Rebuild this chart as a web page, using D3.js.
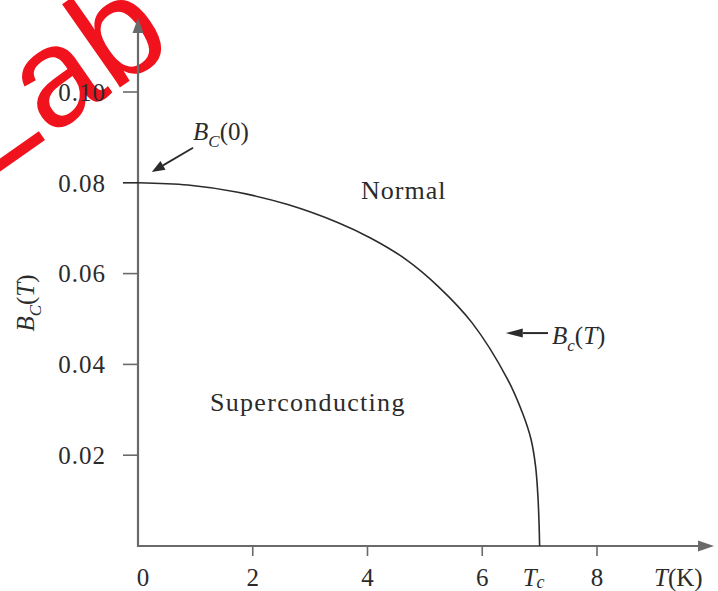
<!DOCTYPE html>
<html>
<head>
<meta charset="utf-8">
<script src="https://cdn.jsdelivr.net/npm/d3@7"></script>
<style>
  html, body { margin: 0; padding: 0; background: #fff; }
  svg { display: block; }
  text { font-family: "Liberation Serif", "Times New Roman", serif; fill: #2b2b2b; }
</style>
</head>
<body>
<div id="chart"></div>
<script>
// Critical field of a type-I superconductor versus temperature
const xTickValues = [0, 2, 4, 6, 8];
const yTickValues = [0.02, 0.04, 0.06, 0.08, 0.10];
const criticalTemp = 7;      // T_c in kelvin
const criticalField0 = 0.08; // B_C(0) in tesla

// Phase boundary B_C(T): temperature (K) and field (T)
const boundaryT = [0, 0.87, 1.74, 2.61, 3.49, 4.06, 4.65, 5.23, 5.82, 6.43, 6.71, 6.85, 6.93, 6.97, 6.99, 7.0];
const boundaryB = [0.0800, 0.0795, 0.0779, 0.0752, 0.0712, 0.0678, 0.0633, 0.0572, 0.0492, 0.0370, 0.0290, 0.0235, 0.0175, 0.0110, 0.0050, 0];

const W = 718, H = 591;
const svg = d3.select("#chart").append("svg").attr("width", W).attr("height", H);

const x = d3.scaleLinear().domain([0, 8]).range([138, 597]);
const y = d3.scaleLinear().domain([0, 0.10]).range([546, 92]);

const axisColor = "#6a6a6a";
const inkColor = "#2b2b2b";

// red watermark lettering in the corner
svg.append("text")
  .attr("transform", "translate(-15,182) rotate(-35)")
  .style("font-family", "'Liberation Sans', Arial, sans-serif")
  .style("font-size", "140px")
  .style("fill", "#f0121c")
  .text("Lab");

// line with a filled arrow head
function arrow(g, x1, y1, x2, y2, len, half, color, width) {
  const ang = Math.atan2(y2 - y1, x2 - x1);
  const bx = x2 - len * Math.cos(ang), by = y2 - len * Math.sin(ang);
  g.append("line").attr("x1", x1).attr("y1", y1).attr("x2", bx).attr("y2", by)
    .attr("stroke", color).attr("stroke-width", width);
  const px = -Math.sin(ang) * half, py = Math.cos(ang) * half;
  g.append("path")
    .attr("d", `M${x2},${y2}L${bx + px},${by + py}L${bx - px},${by - py}Z`)
    .attr("fill", color);
}

const axes = svg.append("g");
// vertical axis with arrow
arrow(axes, x(0), y(0) + 1, x(0), 18, 15, 5.5, axisColor, 2.2);
// horizontal axis with arrow
arrow(axes, x(0) - 1, y(0), 714, y(0), 16, 5.5, axisColor, 2.2);

// y ticks and labels
const yt = svg.append("g");
yt.selectAll("line").data(yTickValues).join("line")
  .attr("x1", x(0) - 15).attr("x2", x(0))
  .attr("y1", d => y(d)).attr("y2", d => y(d))
  .attr("stroke", d => d === criticalField0 ? inkColor : axisColor)
  .attr("stroke-width", 1.6);
yt.selectAll("text").data(yTickValues).join("text")
  .attr("x", 106).attr("y", d => y(d)).attr("dy", "0.35em")
  .attr("text-anchor", "end")
  .style("font-size", "25px").style("letter-spacing", "1px")
  .text(d3.format(".2f"));

// x ticks and labels
const xt = svg.append("g");
xt.selectAll("line").data(xTickValues.filter(d => d > 0)).join("line")
  .attr("x1", d => x(d)).attr("x2", d => x(d))
  .attr("y1", y(0)).attr("y2", y(0) + 10)
  .attr("stroke", axisColor).attr("stroke-width", 1.6);
xt.selectAll("text").data(xTickValues).join("text")
  .attr("x", d => x(d) + (d === 0 ? 5 : 0)).attr("y", 586)
  .attr("text-anchor", "middle")
  .style("font-size", "25px")
  .text(d => d);

// T_c label
const tcLabel = svg.append("text").attr("x", x(criticalTemp) - 17).attr("y", 586).style("font-size", "25px");
tcLabel.append("tspan").style("font-style", "italic").text("T");
tcLabel.append("tspan").style("font-style", "italic").style("font-size", "18px").attr("dy", 2).text("c");

// axis titles
const xTitle = svg.append("text").attr("x", 654).attr("y", 586).style("font-size", "25px");
xTitle.append("tspan").style("font-style", "italic").text("T");
xTitle.append("tspan").text("(K)");

const yTitle = svg.append("text")
  .attr("transform", "translate(34,303) rotate(-90)")
  .attr("text-anchor", "middle")
  .style("font-size", "25px");
yTitle.append("tspan").style("font-style", "italic").text("B");
yTitle.append("tspan").style("font-style", "italic").style("font-size", "17px").attr("dy", 7).text("C");
yTitle.append("tspan").attr("dy", -7).text("(");
yTitle.append("tspan").style("font-style", "italic").text("T");
yTitle.append("tspan").text(")");

// phase boundary curve
const pts = boundaryT.map((t, i) => [t, boundaryB[i]]);
svg.append("path")
  .datum(pts)
  .attr("fill", "none")
  .attr("stroke", inkColor)
  .attr("stroke-width", 1.6)
  .attr("d", d3.line().x(d => x(d[0])).y(d => y(d[1])).curve(d3.curveCatmullRom.alpha(0.5)));

// region labels
svg.append("text").attr("x", 361).attr("y", 199)
  .style("font-size", "26px").style("letter-spacing", "1px").text("Normal");
svg.append("text").attr("x", 210).attr("y", 411)
  .style("font-size", "26px").style("letter-spacing", "1.3px").text("Superconducting");

// B_C(0) annotation
const ann = svg.append("g");
arrow(ann, x(0.96), y(0.0877), x(0.24), y(0.0824), 13, 5, inkColor, 1.8);
const b0 = svg.append("text").attr("x", x(0.96)).attr("y", 140).style("font-size", "25px");
b0.append("tspan").style("font-style", "italic").text("B");
b0.append("tspan").style("font-style", "italic").style("font-size", "17px").attr("dy", 7).text("C");
b0.append("tspan").attr("dy", -7).text("(0)");

// B_c(T) annotation
arrow(ann, 548, y(0.0469), x(6.41), y(0.0469), 17, 4.5, inkColor, 2);
const bt = svg.append("text").attr("x", 552).attr("y", 344).style("font-size", "25px");
bt.append("tspan").style("font-style", "italic").text("B");
bt.append("tspan").style("font-style", "italic").style("font-size", "17px").attr("dy", 7).text("c");
bt.append("tspan").attr("dy", -7).text("(");
bt.append("tspan").style("font-style", "italic").text("T");
bt.append("tspan").text(")");
</script>
</body>
</html>
